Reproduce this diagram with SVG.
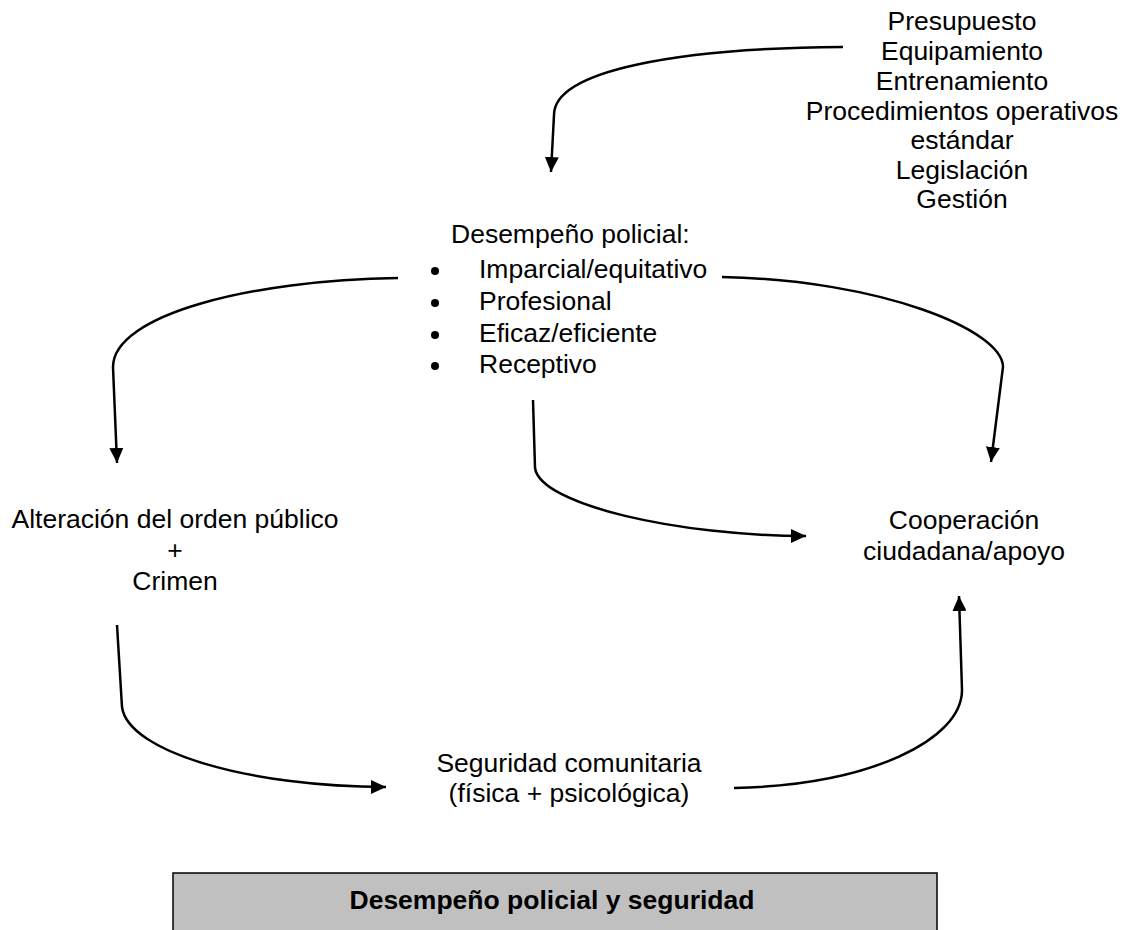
<svg xmlns="http://www.w3.org/2000/svg" width="1125" height="930" viewBox="0 0 1125 930">
  <defs>
    <style>
      .t { font-family: "Liberation Sans", Arial, sans-serif; font-size: 26.5px; fill: #000; }
      .c { text-anchor: middle; }
      .b { font-weight: bold; }
      .edge { fill: none; stroke: #000; stroke-width: 2.5; marker-end: url(#head); }
    </style>
    <marker id="head" markerUnits="userSpaceOnUse" markerWidth="15" markerHeight="14" refX="15" refY="7" orient="auto">
      <path d="M0,0 L15,7 L0,14 z" fill="#000"/>
    </marker>
  </defs>
  <rect width="1125" height="930" fill="#fff"/>

  <g id="recursos">
    <text class="t c" x="962" y="30">Presupuesto</text>
    <text class="t c" x="962" y="60">Equipamiento</text>
    <text class="t c" x="962" y="90">Entrenamiento</text>
    <text class="t c" x="962" y="120">Procedimientos operativos</text>
    <text class="t c" x="962" y="149">estándar</text>
    <text class="t c" x="962" y="179">Legislación</text>
    <text class="t c" x="962" y="208">Gestión</text>
  </g>

  <g id="desempeno">
    <text class="t" x="451" y="243">Desempeño policial:</text>
    <circle cx="435" cy="271" r="4"/>
    <circle cx="435" cy="303" r="4"/>
    <circle cx="435" cy="335" r="4"/>
    <circle cx="435" cy="366" r="4"/>
    <text class="t" x="479" y="278">Imparcial/equitativo</text>
    <text class="t" x="479" y="310">Profesional</text>
    <text class="t" x="479" y="342">Eficaz/eficiente</text>
    <text class="t" x="479" y="373">Receptivo</text>
  </g>

  <g id="alteracion">
    <text class="t c" x="175" y="528">Alteración del orden público</text>
    <text class="t c" x="175" y="559">+</text>
    <text class="t c" x="175" y="590">Crimen</text>
  </g>

  <g id="cooperacion">
    <text class="t c" x="964" y="529">Cooperación</text>
    <text class="t c" x="964" y="560">ciudadana/apoyo</text>
  </g>

  <g id="seguridad">
    <text class="t c" x="569" y="772">Seguridad comunitaria</text>
    <text class="t c" x="569" y="802">(física + psicológica)</text>
  </g>

  <g id="titulo">
    <rect x="173" y="873" width="764" height="70" fill="#c0c0c0" stroke="#000" stroke-width="1.5"/>
    <text class="t c b" x="552" y="909">Desempeño policial y seguridad</text>
  </g>

  <g id="connectors">
    <path class="edge" d="M843,47 C680,48 554,70 554,115 L551,172"/>
    <path class="edge" d="M398,278 C250,280 113,315 113,367 L117,463"/>
    <path class="edge" d="M722,277 C880,280 1003,330 1003,367 L991,462"/>
    <path class="edge" d="M533,400 L535,468 C540,505 680,536 806,536"/>
    <path class="edge" d="M117,625 L122,707 C128,752 250,787 386,787"/>
    <path class="edge" d="M734,788 C870,785 962,740 962,690 L959,596"/>
  </g>
</svg>
